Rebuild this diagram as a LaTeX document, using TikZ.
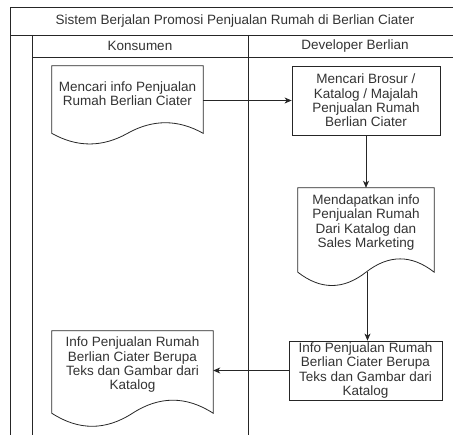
\documentclass[tikz,border=0pt]{standalone}
\usepackage{fontspec}
\setmainfont{Liberation Sans}
\usetikzlibrary{calc,arrows.meta}

\tikzset{
	garis/.style = {draw=black!85, line width=0.8pt},
	teks/.style = {text=black!80, align=center, inner sep=0pt, font=\fontsize{13.5}{14.3}\selectfont},
	proses/.style = {teks, garis, rectangle},
	dokumen/.style = {teks, rectangle},
	alur/.style = {garis, -{Stealth[length=7pt, width=6pt, inset=2pt]}}
}

\begin{document}
\begin{tikzpicture}[x=1pt, y=-1pt]
		\useasboundingbox (0,0) rectangle (453,435);
		\clip (0,0) rectangle (453,435);
		% kolam dan jalur
		\draw[garis] (470,7) -- (10,7) -- (10,440);
		\draw[garis] (10,35) -- (470,35);
		\draw[garis] (32,57) -- (470,57);
		\draw[garis] (32,35) -- (32,440);
		\draw[garis] (248,35) -- (248,440);
		\node[teks] (Judul) at (235,21) {Sistem Berjalan Promosi Penjualan Rumah di Berlian Ciater};
		\node[teks] (Konsumen) at (140,46) {Konsumen};
		\node[teks] (Developer) at (355,46) {Developer Berlian};
		% langkah
		\node[dokumen, minimum width=151pt, minimum height=55.3pt] (Cari) at (127.5,93.7) {Mencari info Penjualan\\Rumah Berlian Ciater};
		\node[proses, minimum width=148pt, minimum height=69pt] (Brosur) at (366,100.5) {Mencari Brosur /\\Katalog / Majalah\\Penjualan Rumah\\Berlian Ciater};
		\node[dokumen, minimum width=136pt, minimum height=69.2pt] (Dapat) at (366,222.6) {Mendapatkan info\\Penjualan Rumah\\Dari Katalog dan\\Sales Marketing};
		\node[proses, minimum width=153pt, minimum height=59pt] (Info) at (365.5,370.5) {Info Penjualan Rumah\\Berlian Ciater Berupa\\Teks dan Gambar dari\\Katalog};
		\node[dokumen, minimum width=161pt, minimum height=67.5pt] (Hasil) at (132.5,364.8) {Info Penjualan Rumah\\Berlian Ciater Berupa\\Teks dan Gambar dari\\Katalog};
		% bentuk dokumen
		\foreach \n/\d in {Cari/23.6, Dapat/29.6, Hasil/29}
			\draw[garis] (\n.north west) -- (\n.north east) -- ($(\n.south east)+(0,\d/2)$)
				.. controls ($(\n.south east)!1/6!(\n.south west)+(0,-0.1*\d)$) and ($(\n.south)!1/3!(\n.south east)+(0,-0.1*\d)$) .. ($(\n.south)+(0,\d/2)$)
				.. controls ($(\n.south)!1/3!(\n.south west)+(0,1.1*\d)$) and ($(\n.south west)!1/6!(\n.south east)+(0,1.1*\d)$) .. ($(\n.south west)+(0,\d/2)$) -- cycle;
		\coordinate (DapatBawah) at ($(Dapat.south)+(1.5,14.8)$);
		% alur
		\draw[alur] (Cari.east |- Brosur.west) -- (Brosur.west);
		\draw[alur] (Brosur.south) -- (Brosur.south |- Dapat.north);
		\draw[alur] (DapatBawah) -- (DapatBawah |- Info.north);
		\draw[alur] (Info.west) -- (Info.west -| Hasil.east);
	\end{tikzpicture}
\end{document}
